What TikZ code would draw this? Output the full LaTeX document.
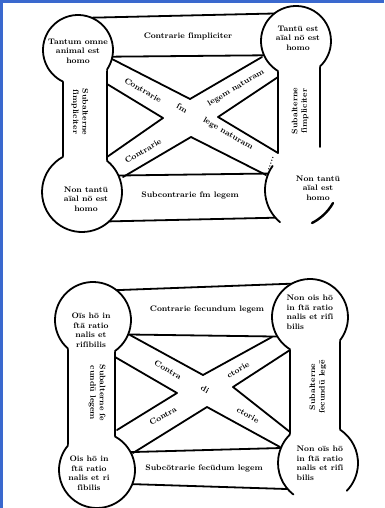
\documentclass[tikz,border=0pt]{standalone}
\usepackage{fontspec}
\definecolor{frameblue}{RGB}{58,104,206}
\tikzset{
 ln/.style={line width=1.8pt, line cap=round, line join=round},
 txt/.style={font=\fontsize{8}{9.5}\selectfont\bfseries, align=center, inner sep=0pt},
}
\newcommand\ringbot[5]{%
  \pgfmathsetmacro\angone{acos((#4-(#1))/(#3))}%
  \pgfmathsetmacro\angtwo{acos((#5-(#1))/(#3))+360}%
  \draw[ln] (#1,#2) ++(\angone:#3) arc[start angle=\angone,end angle=\angtwo,radius=#3];}
\newcommand\ringtop[5]{%
  \pgfmathsetmacro\angone{-acos((#5-(#1))/(#3))}%
  \pgfmathsetmacro\angtwo{360-acos((#4-(#1))/(#3))}%
  \draw[ln] (#1,#2) ++(\angone:#3) arc[start angle=\angone,end angle=\angtwo,radius=#3];}
\begin{document}
\begin{tikzpicture}[x=1pt,y=-1pt]
\useasboundingbox (0,0) rectangle (384,508);
\fill[white] (0,0) rectangle (384,508);
\fill[frameblue] (0,0) rectangle (3,508);
\fill[frameblue] (0,0) rectangle (384,3);

% ---------- upper square ----------
\draw[ln] (78,18) -- (296,13);
\draw[ln] (78,57) -- (296,55);
\draw[ln] (82,176) -- (307,173);
\draw[ln] (82,222) -- (307,217);
\draw[ln] (63,50) -- (63,192);
\draw[ln] (107,50) -- (107,192);
\draw[ln] (278,41) -- (278,153);
\draw[ln] (320,41) -- (320,147);
% cross
\draw[ln] (110,58) -- (190,99) -- (262,57);
\draw[ln] (107,84) -- (163,118) -- (107,157);
\draw[ln] (278,77) -- (218,117) -- (278,153);
\draw[ln] (123,177) -- (191,137) -- (266,175);
% circles
\fill[white] (78,50) circle[radius=35];
\fill[white] (296,41) circle[radius=35];
\fill[white] (82,192) circle[radius=40];
\fill[white] (307,190) circle[radius=42];
\ringbot{78}{50}{35}{63}{107}
\ringbot{296}{41}{35}{278}{320}
\ringtop{82}{192}{40}{63}{107}
\draw[ln] (307,190) ++(130:42) arc[start angle=130,end angle=215,radius=42];
\draw[line width=1pt, dotted] (273,157) -- (268,171);
\draw[line width=2.4pt, line cap=round] (312,223) .. controls (320,219) and (328,212) .. (333,203);
% texts
\node[txt] (t1) at (78,51) {Tantum omne\\animal est\\homo};
\node[txt] (t2) at (298,38) {Tantū est\\aīal nō est\\homo};
\node[txt] (t3) at (86,199) {Non tantū\\aīal nō est\\homo};
\node[txt] (t4) at (318,188) {Non tantū\\aīal est\\homo};
\node[txt] (tb1) at (188,36) {Contrarie ſimpliciter};
\node[txt] (tb2) at (190,196) {Subcontrarie ſm legem};
\node[txt, rotate=-90] (tb3) at (80,112) {Subalterne\\ſimpliciter};
\node[txt, rotate=90] (tb4) at (300,111) {Subalterne\\ſimpliciter};
\node[txt, rotate=-30] (tx1) at (143,90) {Contrarie};
\node[txt, rotate=-30] (tx2) at (182,108) {ſm};
\node[txt, rotate=31] (tx3) at (236,88) {legem naturam};
\node[txt, rotate=-30] (tx4) at (228,134) {lege naturam};
\node[txt, rotate=31] (tx5) at (143,151) {Contrarie};

% ---------- lower square ----------
\draw[ln] (93,291) -- (310,283);
\draw[ln] (93,334) -- (310,337);
\draw[ln] (97,453) -- (318,447);
\draw[ln] (97,483) -- (318,490);
\draw[ln] (68,320) -- (68,470);
\draw[ln] (115,320) -- (115,470);
\draw[ln] (290,317) -- (290,463);
\draw[ln] (340,317) -- (340,463);
% cross
\draw[ln] (130,335) -- (203,375) -- (272,337);
\draw[ln] (115,357) -- (177,393) -- (117,430);
\draw[ln] (290,350) -- (233,387) -- (290,432);
\draw[ln] (133,453) -- (207,407) -- (280,447);
% circles
\fill[white] (93,320) circle[radius=38];
\fill[white] (310,317) circle[radius=38];
\fill[white] (97,470) circle[radius=38];
\fill[white] (318,463) circle[radius=40];
\ringbot{93}{320}{38}{68}{115}
\ringbot{310}{317}{38}{290}{340}
\ringtop{97}{470}{38}{68}{115}
\draw[ln] (318,463) ++(-56.6:40) arc[start angle=-56.6,end angle=44,radius=40];
\draw[ln] (318,463) ++(128:40) arc[start angle=128,end angle=225.6,radius=40];
% texts
\node[txt] (d1) at (91,330) {Oīs hō in\\ſtā ratio\\nalis et\\riſibilis};
\node[txt, align=left] (d2) at (310,312) {Non ois hō\\in ſtā ratio\\nalis et riſi\\bilis};
\node[txt] (d3) at (89,473) {Ois hō in\\ſtā ratio\\nalis et ri\\ſibilis};
\node[txt, align=left] (d4) at (320,463) {Non oīs hō\\in ſtā ratio\\nalis et riſi\\bilis};
\node[txt] (db1) at (207,310) {Contrarie ſecundum legem};
\node[txt] (db2) at (204,468) {Subcōtrarie ſecūdum legem};
\node[txt, rotate=-90] (db3) at (97,393) {Subalterne ſe\\cundū legem};
\node[txt, rotate=90] (db4) at (318,387) {Subalterne\\ſecundū legē};
\node[txt, rotate=-30] (dx1) at (168,370) {Contra};
\node[txt, rotate=-30] (dx2) at (205,389) {di};
\node[txt, rotate=30] (dx3) at (238,370) {ctorie};
\node[txt, rotate=30] (dx4) at (163,416) {Contra};
\node[txt, rotate=-30] (dx5) at (248,415) {ctorie};
\end{tikzpicture}
\end{document}
